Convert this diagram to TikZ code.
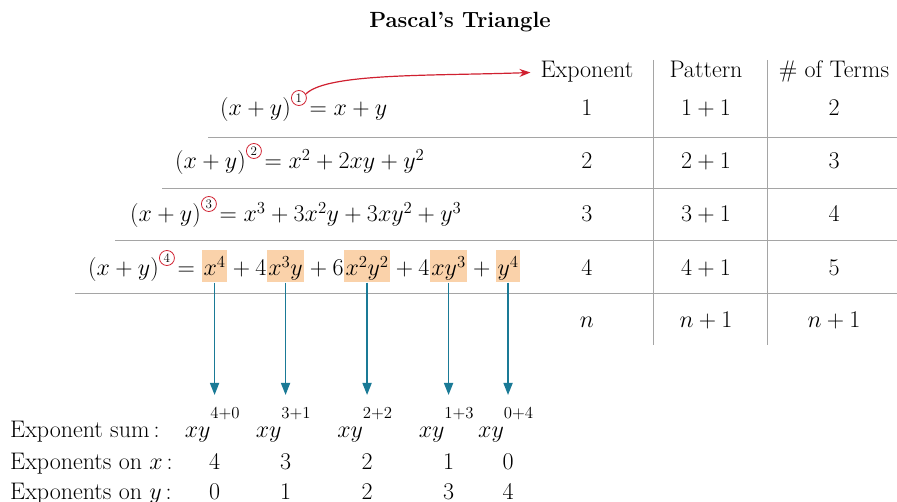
\documentclass[tikz,border=0pt]{standalone}
\usepackage{fix-cm}
\usetikzlibrary{positioning,arrows.meta}
\definecolor{hlorange}{RGB}{250,210,170}
\definecolor{arrowblue}{RGB}{26,122,150}
\definecolor{circred}{RGB}{208,32,48}
\definecolor{rulegray}{RGB}{165,165,165}
\tikzset{
  txt/.style={inner sep=0pt,anchor=base},
  piece/.style={inner sep=0pt,anchor=base west},
  hl/.style={piece,fill=hlorange,inner xsep=1.5pt,inner ysep=1.5pt,text height=24pt,text depth=5pt},
  circnum/.style={circle,draw=circred,line width=0.8pt,inner sep=0pt,minimum size=15pt,font=\fontsize{13}{13}\selectfont,anchor=west},
  rule/.style={rulegray,line width=0.8pt},
  downarrow/.style={arrowblue,line width=1.6pt,-{Triangle[length=12pt,width=9pt]}},
  redarrow/.style={circred,line width=1.2pt,-{Stealth[length=11pt,width=8pt]},shorten >=10pt}
}
\begin{document}
\begin{tikzpicture}[x=1pt,y=-1pt,font=\fontsize{24}{28}\selectfont]
  \useasboundingbox (0,0) rectangle (897,502);
  \node[txt] (title) at (460,28) {\bfseries\fontsize{22}{26}\selectfont Pascal's Triangle};

  % table head
  \node[txt] (hExp) at (587,78) {Exponent};
  \node[txt] (hPat) at (706,78) {Pattern};
  \node[txt] (hNum) at (834,78) {\# of Terms};
  \foreach \r/\yy/\t in {1/116/2,2/169/3,3/222/4,4/276/5}{
    \node[txt] (exp\r) at (587,\yy) {\r};
    \node[txt] (pat\r) at (706,\yy) {$\r+1$};
    \node[txt] (num\r) at (834,\yy) {\t};
  }
  \node[txt] (expN) at (587,328) {$n$};
  \node[txt] (patN) at (706,328) {$n+1$};
  \node[txt] (numN) at (834,328) {$n+1$};

  % rules
  \draw[rule] (208,137) -- (897,137);
  \draw[rule] (162,188) -- (897,188);
  \draw[rule] (115,240) -- (897,240);
  \draw[rule] (75,293) -- (897,293);
  \draw[rule] (653,60) -- (653,345);
  \draw[rule] (767,60) -- (767,345);

  % expansions
  \node[piece] (lhsA) at (220,116) {$(x+y)$};
  \node[circnum] (cA) at ([yshift=18pt]lhsA.base east) {1};
  \node[piece] (rA) at (cA.east |- lhsA.base) {${}\!=x+y$};

  \node[piece] (lhsB) at (175,169) {$(x+y)$};
  \node[circnum] (cB) at ([yshift=18pt]lhsB.base east) {2};
  \node[piece] (rB) at (cB.east |- lhsB.base) {${}\!=x^2+2xy+y^2$};

  \node[piece] (lhsC) at (130,222) {$(x+y)$};
  \node[circnum] (cC) at ([yshift=18pt]lhsC.base east) {3};
  \node[piece] (rC) at (cC.east |- lhsC.base) {${}\!=x^3+3x^2y+3xy^2+y^3$};

  \node[piece] (lhsD) at (88,276) {$(x+y)$};
  \node[circnum] (cD) at ([yshift=18pt]lhsD.base east) {4};
  \node[piece] (eqD) at (cD.east |- lhsD.base) {${}\!={}$};
  \node[hl] (t1) at (eqD.base east) {$x^4$};
  \node[piece] (p1) at (t1.base east) {${}+4$};
  \node[hl] (t2) at (p1.base east) {$x^3y$};
  \node[piece] (p2) at (t2.base east) {${}+6$};
  \node[hl] (t3) at (p2.base east) {$x^2y^2$};
  \node[piece] (p3) at (t3.base east) {${}+4$};
  \node[hl] (t4) at (p3.base east) {$xy^3$};
  \node[piece] (p4) at (t4.base east) {${}+{}$};
  \node[hl] (t5) at (p4.base east) {$y^4$};

  \draw[redarrow] (cA.30) .. controls +(45:30pt) and +(182:110pt) .. (hExp.west);

  % exponents below
  \coordinate (tip) at (0,395);
  \node[piece] (lblSum) at (10,437) {Exponent sum\,:};
  \node[piece] (lblX) at (10,469) {Exponents on $x$\,:};
  \node[piece] (lblY) at (10,499) {Exponents on $y$\,:};
  \foreach \t/\a/\b in {t1/4/0,t2/3/1,t3/2/2,t4/1/3,t5/0/4}{
    \draw[downarrow] (\t.south) -- (\t.south |- tip);
    \node[piece,xshift=-30pt] (sum-\t) at (\t.south |- lblSum.base) {$xy^{\raisebox{10pt}{$\scriptstyle\a+\b$}}$};
    \node[txt] (ex-\t) at (\t.south |- lblX.base) {\a};
    \node[txt] (ey-\t) at (\t.south |- lblY.base) {\b};
  }
\end{tikzpicture}
\end{document}
